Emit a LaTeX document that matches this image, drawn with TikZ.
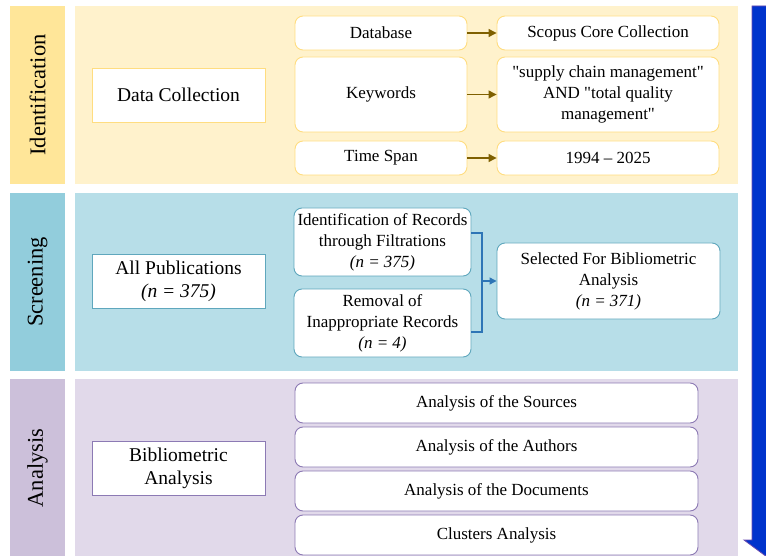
\documentclass[tikz,border=0pt]{standalone}
\usepackage{fontspec}
\setmainfont{Liberation Serif}[Ligatures=TeXOff]
\usetikzlibrary{arrows.meta}

\definecolor{jauneFonce}{HTML}{FFE699}
\definecolor{jauneClair}{HTML}{FFF2CC}
\definecolor{jauneBord}{HTML}{FFDD80}
\definecolor{bleuFonce}{HTML}{92CDDC}
\definecolor{bleuClair}{HTML}{B7DEE8}
\definecolor{bleuBord}{HTML}{5FA7BD}
\definecolor{mauveFonce}{HTML}{CCC0DA}
\definecolor{mauveClair}{HTML}{E1D9EA}
\definecolor{mauveBord}{HTML}{8C7AB4}
\definecolor{olive}{HTML}{7F6000}
\definecolor{bleuLien}{HTML}{2E75B6}
\definecolor{bleuFleche}{HTML}{0033CC}
\definecolor{violetBord}{HTML}{6A4BB0}

\begin{document}
\begin{tikzpicture}[x=1pt,y=-1pt]
		% Styles (MODIFIABLES)
		\tikzstyle{bandeau}=[rotate=90,minimum width=178pt,minimum height=55pt,inner sep=0pt,font=\fontsize{22.5}{27}\selectfont]
		\tikzstyle{panneau}=[minimum width=663pt,minimum height=178pt,inner sep=0pt]
		\tikzstyle{cadre}=[draw,fill=white,line width=0.9pt,minimum width=173pt,minimum height=54pt,inner sep=0pt,align=center,font=\fontsize{19.5}{23}\selectfont]
		\tikzstyle{boite}=[draw,fill=white,rounded corners=8pt,line width=0.9pt,inner sep=0pt,align=center,font=\fontsize{17}{21}\selectfont]
		\tikzstyle{fleche}=[-{Triangle[length=8pt,width=8pt]},line width=1.2pt,olive]
		\tikzstyle{lien}=[line width=1.2pt,bleuLien]
		% Dimensions (MODIFIABLES)
		\def\ColonneA{178.5}
		\def\ColonneB{381}
		\def\ColonneC{608}
		\def\NiveauA{95}
		\def\NiveauB{282}
		\def\NiveauC{468}
		% Cadre general
		\useasboundingbox (0,0) rectangle (766,556);
		\clip (0,0) rectangle (766,556);
		\fill[white] (0,0) rectangle (766,556);
		% Bandeaux et panneaux
		\node[bandeau,fill=jauneFonce] (BI) at (37.5,\NiveauA) {Identification};
		\node[bandeau,fill=bleuFonce] (BS) at (37.5,\NiveauB) {Screening};
		\node[bandeau,fill=mauveFonce] (BA) at (37.5,\NiveauC) {Analysis};
		\node[panneau,fill=jauneClair] (PI) at (406.5,\NiveauA) {};
		\node[panneau,fill=bleuClair] (PS) at (406.5,\NiveauB) {};
		\node[panneau,fill=mauveClair] (PA) at (406.5,\NiveauC) {};
		% Fleche verticale
		\path[fill=bleuFleche,draw=violetBord,line width=0.8pt] (752,6) -- (782,6) -- (782,540) -- (790,540) -- (767,557) -- (744,540) -- (752,540) -- cycle;
		% Noeuds : identification
		\node[cadre,draw=jauneBord] (DC) at (\ColonneA,\NiveauA) {Data Collection};
		\node[boite,draw=jauneBord,minimum width=172pt,minimum height=34pt] (DB) at (\ColonneB,33) {Database};
		\node[boite,draw=jauneBord,minimum width=172pt,minimum height=75pt] (KW) at (\ColonneB,94.5) {Keywords};
		\node[boite,draw=jauneBord,minimum width=172pt,minimum height=34pt] (TS) at (\ColonneB,158) {Time Span};
		\node[boite,draw=jauneBord,minimum width=222pt,minimum height=34pt] (DBa) at (\ColonneC,33) {Scopus Core Collection};
		\node[boite,draw=jauneBord,minimum width=222pt,minimum height=75pt] (KWa) at (\ColonneC,94.5) {"supply chain management"\\AND "total quality\\management"};
		\node[boite,draw=jauneBord,minimum width=222pt,minimum height=34pt] (TSa) at (\ColonneC,158) {1994 – 2025};
		% Noeuds : screening
		\node[cadre,draw=bleuBord] (AP) at (\ColonneA,281) {All Publications\\\textit{(n = 375)}};
		\node[boite,draw=bleuBord,minimum width=177pt,minimum height=68pt] (IR) at (382.5,242) {Identification of Records\\through Filtrations\\\textit{(n = 375)}};
		\node[boite,draw=bleuBord,minimum width=177pt,minimum height=68pt] (RI) at (382.5,323) {Removal of\\Inappropriate Records\\\textit{(n = 4)}};
		\node[boite,draw=bleuBord,minimum width=223pt,minimum height=76pt] (SB) at (608.5,281) {Selected For Bibliometric\\Analysis\\\textit{(n = 371)}};
		\coordinate (J) at (482,281);
		% Noeuds : analysis
		\node[cadre,draw=mauveBord] (BAn) at (\ColonneA,\NiveauC) {Bibliometric\\Analysis};
		\node[boite,draw=mauveBord,minimum width=403pt,minimum height=40pt] (A1) at (496.5,403) {Analysis of the Sources};
		\node[boite,draw=mauveBord,minimum width=403pt,minimum height=40pt] (A2) at (496.5,447) {Analysis of the Authors};
		\node[boite,draw=mauveBord,minimum width=403pt,minimum height=40pt] (A3) at (496.5,491) {Analysis of the Documents};
		\node[boite,draw=mauveBord,minimum width=403pt,minimum height=40pt] (A4) at (496.5,535) {Clusters Analysis};
		% Arcs (MODIFIABLES : Styles)
		\draw[fleche] (DB.east)--(DBa.west);
		\draw[fleche] (KW.east)--(KWa.west);
		\draw[fleche] (TS.east)--(TSa.west);
		\draw[lien] ([yshift=9pt]IR.east) -| (J);
		\draw[lien] ([yshift=-9pt]RI.east) -| (J);
		\draw[lien,-{Triangle[length=7pt,width=7pt]}] (J)--(SB.west);
	\end{tikzpicture}
\end{document}
